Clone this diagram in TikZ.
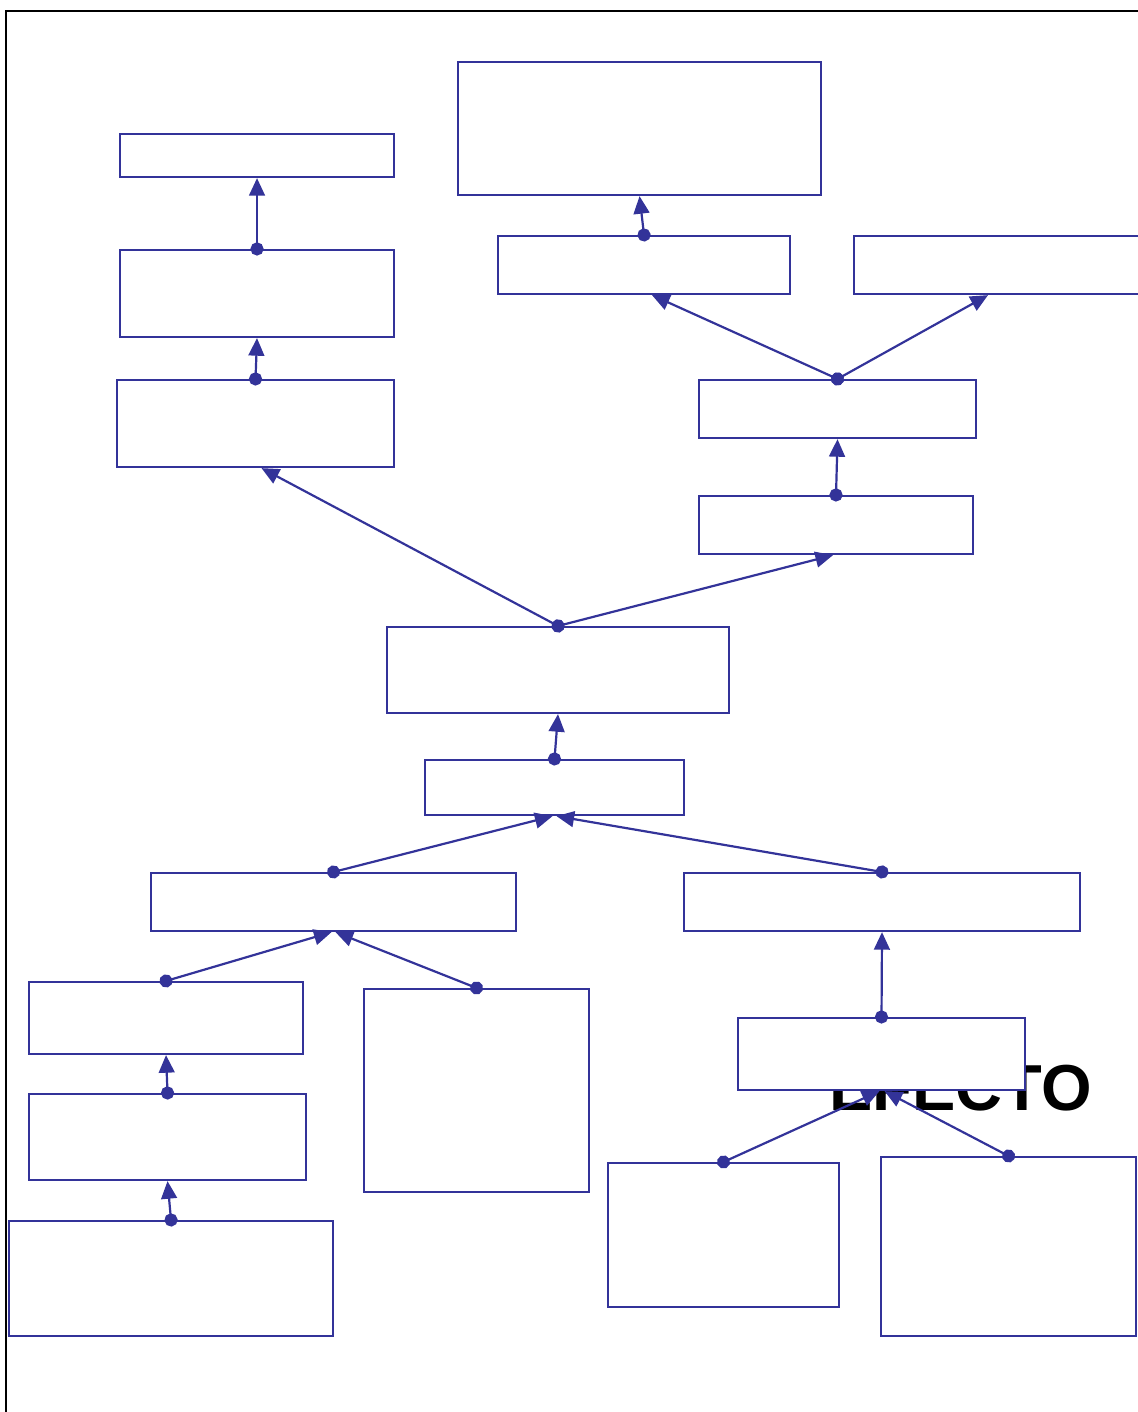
\documentclass[tikz,border=0pt]{standalone}
\usepackage{fontspec}
\setmainfont{Liberation Sans}
\usetikzlibrary{arrows.meta,calc}
\definecolor{azul}{HTML}{333399}

\begin{document}
\begin{tikzpicture}[
  x=0.02cm,y=-0.02cm,
  caja/.style={draw=azul,fill=white,line width=1.25pt,anchor=north west,
               inner sep=0pt,xshift=-0.6pt,yshift=0.6pt},
  flecha/.style={{Circle[length=7.5pt]}-{Triangle[length=10pt,width=9pt]},
                 shorten <=-3.75pt,line width=1.25pt,azul}
]
  \useasboundingbox (0,0) rectangle (1138,1412);
  % marco
  \draw[line width=1.7pt] (6,1420) -- (6,11) -- (1145,11);
  % texto de fondo
  \node[font=\bfseries\fontsize{37}{41}\selectfont,anchor=base west,inner sep=0pt]
        (efecto) at (829,1110) {EFECTO};
  % cajas
  \node[caja,minimum width=5.48cm,minimum height=0.86cm] (a1) at (120,134) {};
  \node[caja,minimum width=5.48cm,minimum height=1.74cm] (a2) at (120,250) {};
  \node[caja,minimum width=5.54cm,minimum height=1.74cm] (a3) at (117,380) {};
  \node[caja,minimum width=7.26cm,minimum height=2.66cm] (b1) at (458,62) {};
  \node[caja,minimum width=5.84cm,minimum height=1.16cm] (b2) at (498,236) {};
  \node[caja,minimum width=5.76cm,minimum height=1.16cm] (b3) at (854,236) {};
  \node[caja,minimum width=5.54cm,minimum height=1.16cm] (b4) at (699,380) {};
  \node[caja,minimum width=5.48cm,minimum height=1.16cm] (b5) at (699,496) {};
  \node[caja,minimum width=6.84cm,minimum height=1.72cm] (centro) at (387,627) {};
  \node[caja,minimum width=5.18cm,minimum height=1.10cm] (nucleo) at (425,760) {};
  \node[caja,minimum width=7.30cm,minimum height=1.16cm] (c1) at (151,873) {};
  \node[caja,minimum width=7.92cm,minimum height=1.16cm] (d1) at (684,873) {};
  \node[caja,minimum width=5.48cm,minimum height=1.44cm] (c2) at (29,982) {};
  \node[caja,minimum width=4.50cm,minimum height=4.06cm] (c3) at (364,989) {};
  \node[caja,minimum width=5.54cm,minimum height=1.72cm] (c4) at (29,1094) {};
  \node[caja,minimum width=6.48cm,minimum height=2.30cm] (c5) at (9,1221) {};
  \node[caja,minimum width=5.74cm,minimum height=1.44cm] (d2) at (738,1018) {};
  \node[caja,minimum width=4.62cm,minimum height=2.88cm] (d3) at (608,1163) {};
  \node[caja,minimum width=5.10cm,minimum height=3.58cm] (d4) at (881,1157) {};
  % conectores
  \draw[flecha] (a2.north) -- (a1.south);
  \draw[flecha] (a3.north) -- (a2.south);
  \draw[flecha] (b2.north) -- (b1.south);
  \draw[flecha] (b4.north) -- ($(b2.south)+(8,0)$);
  \draw[flecha] (b4.north) -- ($(b3.south)+(-10,0)$);
  \draw[flecha] (b5.north) -- (b4.south);
  \draw[flecha] (centro.north) -- ($(a3.south)+(6,0)$);
  \draw[flecha] (centro.north) -- ($(b5.south)+(-3,0)$);
  \draw[flecha] (nucleo.north) -- (centro.south);
  \draw[flecha] (c1.north) -- ($(nucleo.south)+(-2,0)$);
  \draw[flecha] (d1.north) -- ($(nucleo.south)+(2,0)$);
  \draw[flecha] (c2.north) -- ($(c1.south)+(-2,0)$);
  \draw[flecha] (c3.north) -- ($(c1.south)+(2,0)$);
  \draw[flecha] (c4.north) -- (c2.south);
  \draw[flecha] (c5.north) -- (c4.south);
  \draw[flecha] (d2.north) -- (d1.south);
  \draw[flecha] (d3.north) -- ($(d2.south)+(-2,0)$);
  \draw[flecha] (d4.north) -- ($(d2.south)+(3,0)$);
\end{tikzpicture}
\end{document}
